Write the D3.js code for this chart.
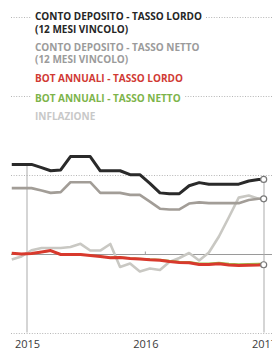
<!DOCTYPE html>
<html>
<head>
<meta charset="utf-8">
<script src="https://cdn.jsdelivr.net/npm/d3@7"></script>
<style>
  body { margin: 0; background: #fff; }
  svg { display: block; }
</style>
</head>
<body>
<div id="wrapper"></div>
<script>
// months (mid-month), last point closes the series at year end
const months = ["2014-11-15","2014-12-15","2015-01-15","2015-02-15","2015-03-15","2015-04-15",
  "2015-05-15","2015-06-15","2015-07-15","2015-08-15","2015-09-15","2015-10-15","2015-11-15",
  "2015-12-15","2016-01-15","2016-02-15","2016-03-15","2016-04-15","2016-05-15","2016-06-15",
  "2016-07-15","2016-08-15","2016-09-15","2016-10-15","2016-11-15","2016-12-15","2016-12-31"]

const contoLordo = [1.14,1.14,1.14,1.10,1.06,1.07,1.24,1.24,1.24,1.06,1.06,1.06,1.01,1.01,
  0.90,0.78,0.77,0.77,0.87,0.91,0.89,0.89,0.89,0.89,0.93,0.95,0.95]
const contoNetto = [0.84,0.84,0.84,0.81,0.78,0.79,0.915,0.915,0.915,0.78,0.78,0.78,0.755,0.755,
  0.67,0.58,0.57,0.57,0.645,0.66,0.65,0.65,0.65,0.65,0.69,0.705,0.705]
const botLordo = [0.016,0.006,0.013,0.032,0.05,0,0,0,-0.013,-0.025,-0.042,-0.038,-0.05,-0.057,
  -0.067,-0.073,-0.089,-0.1,-0.105,-0.127,-0.127,-0.118,-0.133,-0.14,-0.135,-0.133,-0.13]
const botNetto = [0.014,0.005,0.011,0.028,0.044,0,0,0,-0.011,-0.022,-0.037,-0.033,-0.044,-0.05,
  -0.059,-0.064,-0.078,-0.088,-0.092,-0.111,-0.111,-0.103,-0.116,-0.122,-0.118,-0.116,-0.114]
const inflazione = [-0.063,-0.025,0.054,0.082,0.082,0.082,0.095,0.135,0.05,0.05,0.133,-0.158,
  -0.114,-0.215,-0.177,-0.196,-0.095,-0.044,0.019,-0.076,0.025,0.228,0.475,0.72,0.747,0.705,0.705]

const yearTicks = ["2015","2016","2017"]
const gridValues = [-1, 1, 2, 3]

const legendLabels = [
  ["CONTO DEPOSITO - TASSO LORDO", "(12 MESI VINCOLO)"],
  ["CONTO DEPOSITO - TASSO NETTO", "(12 MESI VINCOLO)"],
  ["BOT ANNUALI - TASSO LORDO"],
  ["BOT ANNUALI - TASSO NETTO"],
  ["INFLAZIONE"],
]

const width = 272
const height = 349
const parseDay = d3.timeParse("%Y-%m-%d")
const parseYear = d3.timeParse("%Y")
const dates = months.map(parseDay)

const svg = d3.select("#wrapper")
  .append("svg")
    .attr("width", width)
    .attr("height", height)

const xScale = d3.scaleTime()
  .domain([parseYear("2015"), parseYear("2017")])
  .range([27, 264])

const yScale = d3.scaleLinear()
  .domain([-1, 3])
  .range([333.5, 17.5])

// grid
svg.append("g").selectAll("line")
  .data(gridValues)
  .join("line")
    .attr("x1", 11).attr("x2", width)
    .attr("y1", d => yScale(d)).attr("y2", d => yScale(d))
    .attr("stroke", "#b5b5b5")
    .attr("stroke-width", 1)
    .attr("stroke-dasharray", "1,1.6")

svg.append("line")
  .attr("x1", 11).attr("x2", width)
  .attr("y1", yScale(0)).attr("y2", yScale(0))
  .attr("stroke", "#9a9a9a")
  .attr("stroke-width", 1)

// small tick for 2016 on zero line
svg.append("line")
  .attr("x1", xScale(parseYear("2016"))).attr("x2", xScale(parseYear("2016")))
  .attr("y1", yScale(0) - 3).attr("y2", yScale(0))
  .attr("stroke", "#9a9a9a")

// vertical lines at 2015 and 2017, from the top series down
const bisect = d3.bisector(d => d).center
;["2015", "2017"].forEach(y => {
  const t = parseYear(y)
  const i = bisect(dates, t)
  svg.append("line")
    .attr("x1", xScale(t)).attr("x2", xScale(t))
    .attr("y1", yScale(contoLordo[i])).attr("y2", yScale(-1) - 1)
    .attr("stroke", "#ababab")
    .attr("stroke-width", 1)
})

const line = d3.line()
  .x((d, i) => xScale(dates[i]))
  .y(d => yScale(d))

const series = [
  { values: inflazione, color: "#c9c8c3", width: 2.6 },
  { values: contoNetto, color: "#a29d97", width: 2.6 },
  { values: contoLordo, color: "#2a2a2a", width: 3 },
  { values: botNetto, color: "#9cc24e", width: 1.6 },
  { values: botLordo, color: "#d8392d", width: 3 },
]

svg.append("g").selectAll("path")
  .data(series)
  .join("path")
    .attr("d", d => line(d.values))
    .attr("fill", "none")
    .attr("stroke", d => d.color)
    .attr("stroke-width", d => d.width)
    .attr("stroke-linejoin", "round")

// end circles
const last = dates.length - 1
svg.append("g").selectAll("circle")
  .data([contoLordo, contoNetto, botLordo])
  .join("circle")
    .attr("cx", xScale(dates[last]))
    .attr("cy", d => yScale(d[last]))
    .attr("r", 3)
    .attr("fill", "#fff")
    .attr("stroke", "#777")
    .attr("stroke-width", 1.2)

// x axis
const xAxis = d3.axisBottom(xScale)
  .tickValues(yearTicks.map(parseYear))
  .tickFormat(d3.timeFormat("%Y"))
  .tickSize(0)

const axisG = svg.append("g")
  .attr("transform", `translate(0, ${yScale(-1)})`)
  .call(xAxis)
axisG.select(".domain").remove()
axisG.selectAll("text")
  .attr("y", 14)
  .attr("dy", 0)
  .attr("fill", "#3a3a3a")
  .style("font-family", "'Open Sans', sans-serif")
  .style("font-size", "11px")

// legend
const legendColors = ["#262626", "#9b9b9b", "#d13a34", "#7db44a", "#c8c8c8"]
const legendY = [[20, 33], [50.5, 63], [81.5], [101.5], [120]]
const legend = svg.append("g")
  .style("font-family", "'Open Sans', sans-serif")
  .style("font-weight", 700)
  .style("font-size", "10px")

legendLabels.forEach((rows, k) => {
  rows.forEach((txt, j) => {
    const bg = legend.append("rect")
      .attr("fill", "#fff")
    const t = legend.append("text")
      .attr("x", 35)
      .attr("y", legendY[k][j])
      .attr("fill", legendColors[k])
      .text(txt)
    const w = t.node().getComputedTextLength()
    bg.attr("x", 31).attr("y", legendY[k][j] - 9)
      .attr("width", w + 8).attr("height", 11)
  })
})
</script>
</body>
</html>
